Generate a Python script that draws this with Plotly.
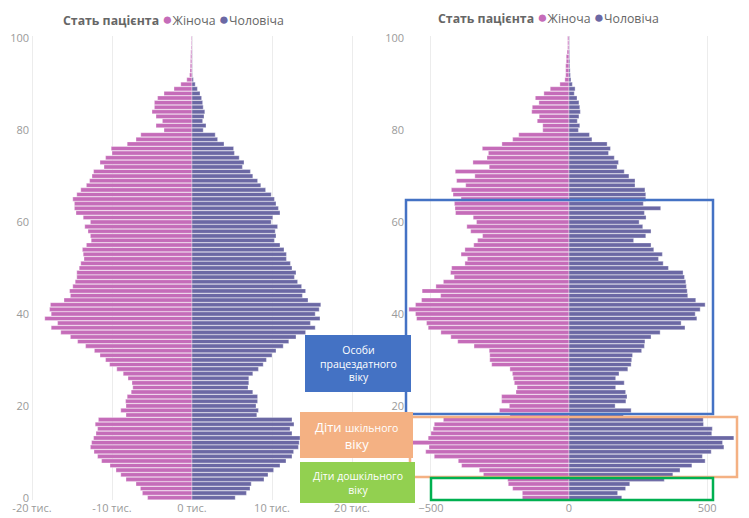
import numpy as np
import plotly.graph_objects as go

W, H = 749, 518

ages = list(range(101))

# left pyramid, thousands of patients
left_female_k = [
    5.55, 6.2, 6.45, 7.0, 8.25, 8.9, 9.5, 10.25, 11.3, 11.8,
    12.25, 12.7, 12.55, 12.3, 12.0, 11.8, 12.1, 11.7, 8.25, 8.9,
    8.25, 8.3, 8.1, 7.6, 7.4, 7.5, 8.0, 8.6, 9.4, 10.3,
    10.8, 11.5, 12.2, 13.3, 14.3, 15.2, 16.4, 17.6, 16.8, 18.4,
    17.6, 17.8, 17.7, 16.0, 15.2, 15.3, 14.9, 14.6, 14.4, 14.4,
    14.1, 13.9, 13.5, 13.6, 13.7, 13.2, 12.6, 12.7, 13.0, 13.4,
    12.7, 13.6, 14.5, 14.7, 14.7, 14.9, 14.4, 13.9, 13.2, 12.8,
    12.5, 12.3, 11.0, 11.5, 10.8, 10.0, 10.1, 8.1, 7.0, 6.4,
    3.5, 4.5, 3.7, 4.5, 5.0, 4.7, 4.7, 4.3, 3.5, 2.25,
    1.4, 0.65, 0.3, 0.25, 0.22, 0.2, 0.18, 0.15, 0.12, 0.1,
    0.1,
]
left_male_k = [
    5.4, 6.8, 7.25, 7.4, 9.0, 9.5, 10.2, 11.0, 11.75, 12.5,
    12.7, 13.3, 13.4, 13.5, 12.5, 12.25, 12.75, 12.5, 8.1, 8.3,
    8.0, 8.2, 8.2, 7.6, 7.0, 7.1, 7.1, 7.6, 8.3, 8.9,
    9.3, 10.0, 10.5, 11.4, 12.1, 13.0, 14.2, 15.4, 14.8, 16.0,
    15.4, 15.9, 16.1, 14.5, 13.8, 14.2, 13.7, 13.2, 12.8, 13.0,
    12.5, 12.3, 11.8, 11.8, 11.5, 11.0, 10.3, 10.5, 10.4, 10.7,
    9.9, 10.1, 11.0, 10.8, 10.5, 10.3, 9.9, 9.2, 8.6, 8.2,
    7.6, 7.3, 6.3, 6.5, 5.9, 5.3, 5.2, 4.0, 3.2, 2.9,
    1.4, 1.75, 1.33, 1.5, 1.6, 1.4, 1.33, 1.2, 1.0, 0.67,
    0.4, 0.17, 0.05, 0.03, 0.03, 0.02, 0.02, 0.02, 0.01, 0.01,
    0.01,
]

# right pyramid, patients
right_female = [
    169, 169, 204, 220, 222, 310, 325, 389, 401, 488,
    519, 507, 568, 510, 500, 492, 488, 455, 214, 252,
    216, 244, 244, 192, 188, 198, 202, 205, 214, 280,
    287, 287, 289, 344, 403, 428, 464, 510, 516, 552,
    556, 580, 556, 534, 465, 532, 482, 455, 416, 429,
    425, 377, 368, 391, 377, 345, 331, 313, 356, 370,
    335, 347, 411, 413, 415, 391, 420, 426, 374, 407,
    341, 412, 289, 348, 297, 292, 314, 243, 204, 182,
    95, 95, 115, 108, 135, 133, 109, 122, 91, 68,
    33, 15, 12, 12, 12, 10, 10, 7, 5, 5,
    5,
]
right_male = [
    191, 176, 205, 220, 345, 376, 402, 445, 493, 483,
    515, 561, 556, 597, 517, 519, 487, 486, 197, 225,
    167, 206, 210, 205, 169, 200, 169, 181, 213, 225,
    227, 230, 263, 273, 275, 297, 330, 420, 406, 463,
    457, 475, 493, 459, 430, 428, 425, 423, 418, 413,
    360, 341, 324, 338, 307, 297, 234, 278, 297, 267,
    254, 279, 273, 332, 269, 278, 278, 275, 239, 239,
    217, 200, 174, 179, 164, 143, 150, 138, 83, 74,
    34, 39, 30, 36, 41, 39, 36, 29, 19, 22,
    12, 7, 5, 4, 3, 3, 2, 2, 1, 1,
    1,
]

left_ticks = [-20000, -10000, 0, 10000, 20000]
left_ticktext = ["-20 тис.", "-10 тис.", "0 тис.", "10 тис.", "20 тис."]
right_ticks = [-500, 0, 500]
age_ticks = [0, 20, 40, 60, 80, 100]

FEMALE = "#C56CB9"
MALE = "#6B68A4"
FONT = "Open Sans"


def px(x):
    return x / W


def py(y):
    return 1 - y / H


left_f = -np.array(left_female_k) * 1000
left_m = np.array(left_male_k) * 1000

fig = go.Figure()
bar_line = dict(color="rgba(255,255,255,0.55)", width=0.6)
fig.add_trace(go.Bar(y=ages, x=left_f, orientation="h", name="Жіноча",
                     marker=dict(color=FEMALE, line=bar_line),
                     xaxis="x", yaxis="y", showlegend=False))
fig.add_trace(go.Bar(y=ages, x=left_m, orientation="h", name="Чоловіча",
                     marker=dict(color=MALE, line=bar_line),
                     xaxis="x", yaxis="y", showlegend=False))
fig.add_trace(go.Bar(y=ages, x=[-v for v in right_female], orientation="h", name="Жіноча",
                     marker=dict(color=FEMALE, line=bar_line),
                     xaxis="x2", yaxis="y2", showlegend=False))
fig.add_trace(go.Bar(y=ages, x=right_male, orientation="h", name="Чоловіча",
                     marker=dict(color=MALE, line=bar_line),
                     xaxis="x2", yaxis="y2", showlegend=False))

tickfont = dict(family=FONT, size=11, color="#9a9a9a")
ydom = [py(500), py(36)]
common = dict(automargin=False, zeroline=False, ticks="")

fig.update_layout(
    width=W, height=H,
    margin=dict(l=0, r=0, t=0, b=0, pad=0, autoexpand=False),
    paper_bgcolor="white", plot_bgcolor="white",
    barmode="relative", bargap=0.1,
    font=dict(family=FONT),
    xaxis=dict(domain=[px(30), px(366)], range=[-20250, 21750],
               tickvals=left_ticks, ticktext=left_ticktext, tickfont=tickfont,
               showgrid=True, gridcolor="#ececec", anchor="y", **common),
    yaxis=dict(domain=ydom, range=[-0.5, 100.5], tickvals=age_ticks,
               tickfont=tickfont, showgrid=False, anchor="x", **common),
    xaxis2=dict(domain=[px(405), px(746)], range=[-594, 641],
                tickvals=right_ticks, tickfont=tickfont,
                showgrid=True, gridcolor="#ececec", anchor="y2", **common),
    yaxis2=dict(domain=ydom, range=[-0.5, 100.5], tickvals=age_ticks,
                tickfont=tickfont, showgrid=False, anchor="x2", **common),
)

legend_text = ("<b>Стать пацієнта</b> <span style='color:%s;font-size:17px'>●</span>Жіноча "
               "<span style='color:%s;font-size:17px'>●</span>Чоловіча" % (FEMALE, MALE))
for cx, cy in [(173, 18), (548, 16)]:
    fig.add_annotation(text=legend_text, xref="paper", yref="paper",
                       x=px(cx), y=py(cy), xanchor="center", yanchor="middle",
                       showarrow=False,
                       font=dict(family=FONT, size=12.3, color="#666666"))

# outline boxes on the right pyramid
outlines = [
    ("#4472C4", 406, 200, 713, 414),
    ("#F4B183", 410, 417, 737, 477),
    ("#00B050", 431, 478, 713, 500),
]
for color, x0, y0, x1, y1 in outlines:
    fig.add_shape(type="rect", xref="paper", yref="paper",
                  x0=px(x0), y0=py(y0), x1=px(x1), y1=py(y1),
                  line=dict(color=color, width=2.5), fillcolor="rgba(0,0,0,0)")

# filled label boxes
labels = [
    ("#4472C4", 305, 335, 411, 392, 10.5, "Особи<br>працездатного<br>віку"),
    ("#F4B183", 300, 412, 413, 458, 13,
     "Діти <span style='font-size:10.5px'>шкільного</span><br>віку"),
    ("#92D050", 300, 462, 415, 503, 10.5, "Діти дошкільного<br>віку"),
]
for color, x0, y0, x1, y1, size, text in labels:
    fig.add_shape(type="rect", xref="paper", yref="paper",
                  x0=px(x0), y0=py(y0), x1=px(x1), y1=py(y1),
                  line=dict(width=0), fillcolor=color)
    fig.add_annotation(text=text, xref="paper", yref="paper",
                       x=px((x0 + x1) / 2), y=py((y0 + y1) / 2),
                       xanchor="center", yanchor="middle", showarrow=False,
                       font=dict(family=FONT, size=size, color="white"), align="center")

fig.write_html("out.html", config={"displayModeBar": False},
               post_script="document.body.style.margin='0';")
